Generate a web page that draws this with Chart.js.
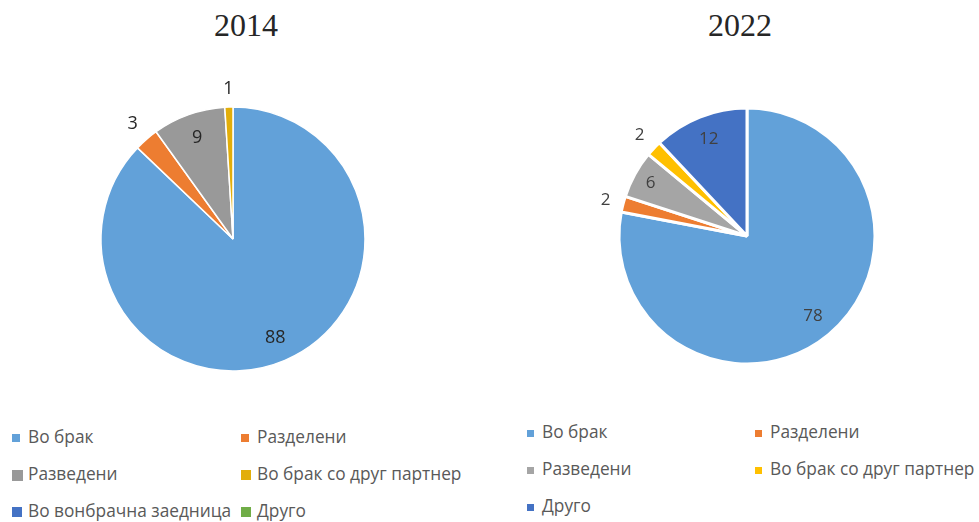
<!DOCTYPE html>
<html><head><meta charset="utf-8">
<script src="https://cdn.jsdelivr.net/npm/chart.js@4"></script>
<style>
html,body{margin:0;padding:0;background:#fff;}
body{width:979px;height:522px;overflow:hidden;position:relative;}
.title{position:absolute;top:5px;font-family:'Liberation Serif','Times New Roman',serif;font-size:32px;color:#262626;transform:translateX(-50%);white-space:nowrap;line-height:40px;}
.wrap{position:absolute;}
.lg{position:absolute;font-family:'Open Sans','Noto Sans',sans-serif;font-size:17.3px;color:#595959;white-space:nowrap;line-height:22px;}
.sq{position:absolute;}
</style>
</head><body>
<div class="title" style="left:246px">2014</div>
<div class="title" style="left:740px">2022</div>
<div class="wrap" style="left:0;top:40px;width:490px;height:370px"><canvas id="c1" width="490" height="370"></canvas></div>
<div class="wrap" style="left:490px;top:40px;width:489px;height:370px"><canvas id="c2" width="489" height="370"></canvas></div>
<div id="legend"></div>
<script>
// ---- data ----
const titles = ['2014', '2022'];
const categories2014 = ['Во брак', 'Разделени', 'Разведени', 'Во брак со друг партнер', 'Во вонбрачна заедница', 'Друго'];
const values2014 = [88, 3, 9, 1, 0, 0];
const categories2022 = ['Во брак', 'Разделени', 'Разведени', 'Во брак со друг партнер', 'Друго'];
const values2022 = [78, 2, 6, 2, 12];

// ---- styles ----
const colors2014 = ['#62A1D9', '#ED7D31', '#999999', '#E2AE0A', '#4472C4', '#70AD47'];
const colors2022 = ['#62A1D9', '#ED7D31', '#A5A5A5', '#FFC000', '#4472C4'];
const labelRadius2014 = [0.815, 1.16, 0.81, 1.14, 1, 1];
const labelRadius2022 = [0.81, 1.14, 0.86, 1.15, 0.81];

const labelPlugin = {
  id: 'sliceLabels',
  afterDatasetsDraw(chart, args, opts) {
    const ctx = chart.ctx;
    const meta = chart.getDatasetMeta(0);
    const data = chart.data.datasets[0].data;
    ctx.save();
    ctx.font = opts.font;
    ctx.fillStyle = opts.color;
    ctx.textAlign = 'center';
    ctx.textBaseline = 'middle';
    meta.data.forEach((arc, i) => {
      const v = data[i];
      if (!v) return;
      const p = arc.getProps(['x', 'y', 'startAngle', 'endAngle', 'outerRadius'], true);
      const mid = (p.startAngle + p.endAngle) / 2;
      const r = p.outerRadius * opts.radii[i];
      ctx.fillText(String(v), p.x + Math.cos(mid) * r, p.y + Math.sin(mid) * r);
    });
    ctx.restore();
  }
};

function makePie(id, cats, vals, cols, bw, radius, pad, radii, font, color) {
  new Chart(document.getElementById(id), {
    type: 'pie',
    data: {
      labels: cats,
      datasets: [{
        data: vals,
        backgroundColor: cols,
        borderColor: '#ffffff',
        borderWidth: (c) => vals[c.dataIndex] ? bw : 0,
        radius: radius
      }]
    },
    options: {
      responsive: false,
      animation: false,
      layout: { padding: pad },
      plugins: {
        legend: { display: false },
        tooltip: { enabled: false },
        sliceLabels: { radii: radii, font: font, color: color }
      }
    },
    plugins: [labelPlugin]
  });
}

makePie('c1', categories2014, values2014, colors2014, 1.5, 132,
  { left: 60, right: 84, top: 40, bottom: 12 }, labelRadius2014,
  '18px "Open Sans", sans-serif', '#262626');
makePie('c2', categories2022, values2022, colors2022, 3, 128,
  { left: 70, right: 45, top: 40, bottom: 18 }, labelRadius2022,
  '17px "Open Sans", sans-serif', '#404040');

// ---- HTML legends ----
const legend = document.getElementById('legend');
function addLegend(cats, cols, colX, rowY, textOff, sqSizes) {
  cats.forEach((c, i) => {
    const x = colX[i % 2], y = rowY[Math.floor(i / 2)];
    const s = sqSizes[i];
    const sq = document.createElement('div');
    sq.className = 'sq';
    sq.style.cssText = `left:${x}px;top:${y - s / 2}px;width:${s}px;height:${s}px;background:${cols[i]}`;
    legend.appendChild(sq);
    const t = document.createElement('div');
    t.className = 'lg';
    t.textContent = c;
    t.style.left = (x + textOff) + 'px';
    t.style.top = (y - 12) + 'px';
    legend.appendChild(t);
  });
}
addLegend(categories2014, colors2014, [12, 241], [438, 475, 512], 16, [8, 8, 11, 10, 10, 10]);
addLegend(categories2022, colors2022, [527, 755], [433, 470, 507], 15, [7, 7, 7, 7, 7]);
</script>
</body></html>
